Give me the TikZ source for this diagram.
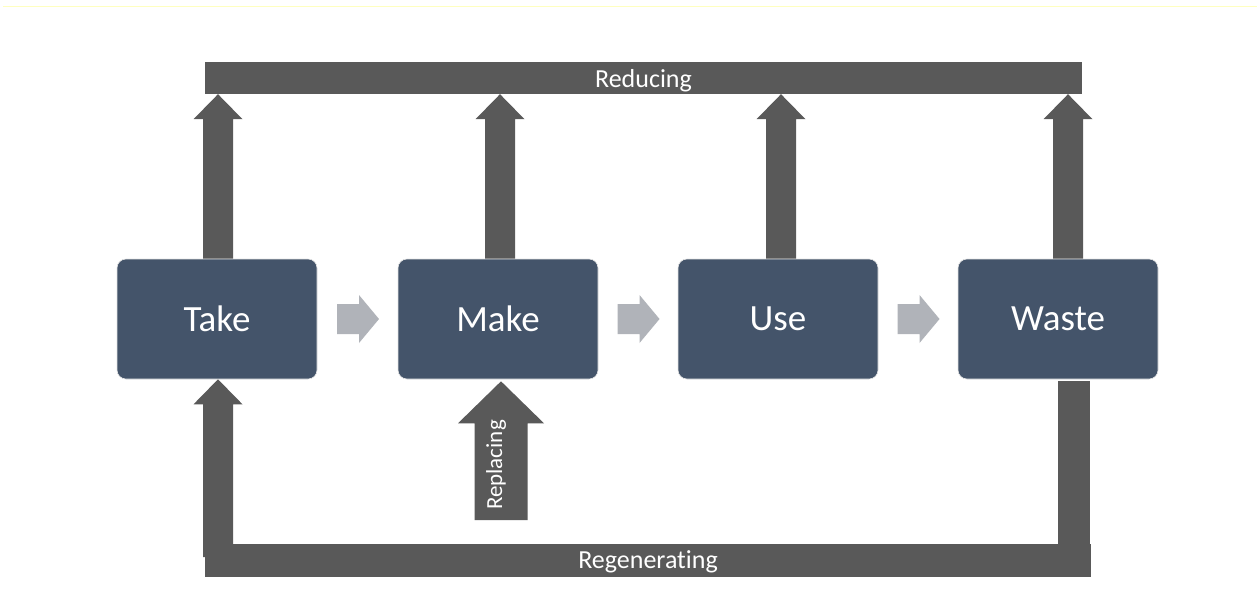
\documentclass[tikz,border=0pt]{standalone}
\usepackage{fontspec}
\setmainfont{Carlito}[Ligatures=NoCommon]
\usetikzlibrary{calc}

\definecolor{boxblue}{HTML}{44546A}
\definecolor{flowgray}{HTML}{595959}
\definecolor{chevgray}{HTML}{B0B3B9}
\definecolor{rulelemon}{HTML}{FFFFC0}

\tikzset{
  stage/.style={rectangle, rounded corners=9pt, fill=boxblue, draw=gray!20,
    line width=0.6pt, minimum width=200pt, minimum height=120pt,
    inner sep=0pt, text=white, font=\fontsize{37}{40}\selectfont},
  bar/.style={rectangle, fill=flowgray, inner sep=0pt, text=white,
    font=\fontsize{26}{28}\selectfont},
  flow/.style={fill=flowgray},
  chev/.style={fill=chevgray},
  sidelabel/.style={rotate=90, text=white, inner sep=0pt,
    font=\fontsize{23}{25}\selectfont},
}

% block arrow pointing up from #1 (shifted by #3) to the level of #2
\newcommand\liftarrow[3]{%
  \fill[flow] let \p1=($(#1)+(#3,0)$), \p2=(#2) in
    (\x1-15pt,\y1) -- (\x1-15pt,\y2-25pt) -- (\x1-24.5pt,\y2-25pt) --
    (\x1,\y2) -- (\x1+24.5pt,\y2-25pt) -- (\x1+15pt,\y2-25pt) --
    (\x1+15pt,\y1) -- cycle;}

% light chevron between two stages
\newcommand\stepchevron[2]{%
  \fill[chev] let \p1=($(#1.east)!0.5!(#2.west)$) in
    (\x1-20.5pt,\y1+15pt) -- (\x1+1.5pt,\y1+15pt) -- (\x1+1.5pt,\y1+24pt) --
    (\x1+21.5pt,\y1) -- (\x1+1.5pt,\y1-24pt) -- (\x1+1.5pt,\y1-15pt) --
    (\x1-20.5pt,\y1-15pt) -- cycle;}

\begin{document}
\begin{tikzpicture}[x=1pt,y=-1pt]
\useasboundingbox (0,0) rectangle (1257,611);
\fill[white] (0,0) rectangle (1257,611);

% thin rule along the top edge
\draw[rulelemon, line width=1pt] (3,6) -- (1257,6);

% feedback bars
\node[bar, minimum width=877pt, minimum height=32pt, text height=20pt, text depth=2pt]
  (reduce) at (643.5,78) {Reducing};
\node[bar, minimum width=886pt, minimum height=33pt, text height=19pt, text depth=4pt]
  (regen) at (648,560.5) {Regenerating};

% stages
\node[stage] (take)  at (217,319)  {Take};
\node[stage] (make)  at (498,319)  {Make};
\node[stage] (use)   at (778,319)  {Use};
\node[stage] (waste) at (1058,319) {Waste};

% chevrons between stages
\stepchevron{take}{make}
\stepchevron{make}{use}
\stepchevron{use}{waste}

% arrows up to the reducing bar
\liftarrow{take.north}{reduce.south}{1}
\liftarrow{make.north}{reduce.south}{2}
\liftarrow{use.north}{reduce.south}{3}
\liftarrow{waste.north}{reduce.south}{10}

% regenerating loop: down from waste, back up into take
\fill[flow] let \p1=($(waste.south)+(16,0)$), \p2=(regen.north) in
  (\x1-16pt,\y1-2pt) rectangle (\x1+16pt,\y2);
\coordinate (takefoot) at (218,557);
\liftarrow{takefoot}{take.south}{0}

% replacing arrow into make
\coordinate (replfoot) at (501,520);
\fill[flow] let \p1=(replfoot), \p2=($(make.south)+(0,2)$) in
  (\x1-26.5pt,\y1) -- (\x1-26.5pt,\y2-42pt) -- (\x1-43pt,\y2-42pt) --
  (\x1,\y2) -- (\x1+43pt,\y2-42pt) -- (\x1+26.5pt,\y2-42pt) --
  (\x1+26.5pt,\y1) -- cycle;
\node[sidelabel] (repl) at (496,465) {Replacing};
\end{tikzpicture}
\end{document}
